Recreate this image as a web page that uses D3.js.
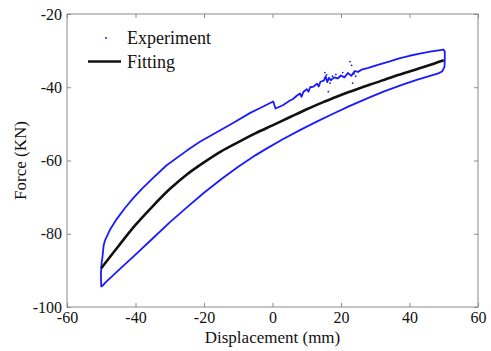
<!DOCTYPE html>
<html>
<head>
<meta charset="utf-8">
<script src="https://cdn.jsdelivr.net/npm/d3@7"></script>
<style>
  html, body { margin: 0; padding: 0; background: #fff; }
  svg { display: block; }
  text { font-family: "Liberation Serif", "Times New Roman", serif; fill: #111; }
</style>
</head>
<body>
<svg id="chart" width="491" height="351"></svg>
<script>
// ---------------- data ----------------
const xTicks = [-60, -40, -20, 0, 20, 40, 60];
const yTicks = [-100, -80, -60, -40, -20];
const xLabel = "Displacement (mm)";
const yLabel = "Force (KN)";
const legendLabels = ["Experiment", "Fitting"];

// Experiment loop: loading (upper) branch, right turn, unloading (lower) branch
const expX = [-50, -50.1, -49.9, -49.7, -49.3, -48.9, -47.5, -45.5, -43, -40.6, -38, -35, -30.9, -25, -21.2, -15, -11.4, -6.5, -3, 0.2,
  0.9, 3, 5, 6, 7, 8, 8.5, 9, 10, 10.5, 11, 12, 13, 13.5, 14, 15, 15.5, 16, 16.5, 17, 18, 19, 20, 21, 22, 23, 24, 25, 26, 28, 31, 34, 37, 40, 43, 46, 48, 49.9,
  50.3, 50.3, 50.2, 49.5,
  48.4, 46, 42.1, 38, 32.4, 28, 22.6, 18, 12.9, 8, 3, -2, -5, -10, -15, -20, -25, -30, -35, -40, -45, -48.9, -49.5, -50];
const expY = [-94.5, -91, -88, -86.8, -83.2, -81.8, -79.0, -76.0, -72.9, -70.2, -67.6, -64.9, -61.3, -57.3, -54.9, -51.6, -49.7, -47.0, -45.4, -43.9,
  -45.8, -44.9, -43.7, -43.2, -42.4, -41.7, -42.6, -41.3, -40.5, -41.2, -40.0, -39.8, -39.0, -39.8, -38.5, -38.2, -37.0, -38.6, -37.4, -38.1, -37.3, -37.6, -36.8, -37.3, -36.1, -36.9, -35.6, -35.8, -35.2, -34.7, -33.8, -33.0, -32.1, -31.4, -30.8, -30.3, -30.0, -29.7,
  -30.2, -32.5, -34.5, -35.7,
  -36.2, -36.9, -38.0, -39.3, -41.2, -42.9, -45.1, -47.1, -49.4, -51.7, -54.2, -56.9, -58.6, -61.7, -65.1, -68.8, -72.8, -76.9, -81.3, -85.7, -90.0, -93.4, -94.1, -94.5];

// scattered outlier samples of the experiment
const dotX = [15.3, 15.8, 16.3, 16.8, 17.5, 18.5, 20.5, 22.6, 23.1, 23.4, 23.8, 24.3];
const dotY = [-36.0, -36.6, -41.2, -38.9, -37.0, -36.5, -36.0, -33.0, -34.0, -38.9, -36.3, -37.0];

// Fitting curve
const fitX = [-50, -45, -40, -35, -30, -25, -20, -15, -10, -5, 0, 5, 10, 15, 20, 25, 30, 35, 40, 45, 50];
const fitY = [-89.4, -83.4, -77.6, -72.5, -67.8, -63.8, -60.5, -57.5, -55.0, -52.6, -50.4, -48.2, -46.0, -44.0, -42.1, -40.4, -38.8, -37.2, -35.7, -34.2, -32.6];

// ---------------- drawing ----------------
const svg = d3.select("#chart");
const m = { left: 67, right: 478, top: 14, bottom: 307 };
const x = d3.scaleLinear().domain([-60, 60]).range([m.left, m.right]);
const y = d3.scaleLinear().domain([-100, -20]).range([m.bottom, m.top]);

const axisColor = "#8a8a8a";
const blue = "#1a1aff";
const fmt = d => String(d);

// frame
svg.append("rect")
  .attr("x", m.left).attr("y", m.top)
  .attr("width", m.right - m.left).attr("height", m.bottom - m.top)
  .attr("fill", "none").attr("stroke", axisColor).attr("stroke-width", 1);

// axes with inward ticks
function styleAxis(g) {
  g.select(".domain").remove();
  g.selectAll(".tick line").attr("stroke", axisColor);
  g.selectAll(".tick text").style("font-family", '"Liberation Serif", serif').style("font-size", "16px").attr("fill", "#111");
}
svg.append("g").attr("transform", `translate(0,${m.bottom})`)
  .call(d3.axisBottom(x).tickValues(xTicks).tickSizeInner(-4).tickSizeOuter(0).tickPadding(5).tickFormat(fmt))
  .call(styleAxis);
svg.append("g").attr("transform", `translate(0,${m.top})`)
  .call(d3.axisTop(x).tickValues(xTicks).tickSizeInner(-4).tickSizeOuter(0).tickFormat(""))
  .call(styleAxis);
svg.append("g").attr("transform", `translate(${m.left},0)`)
  .call(d3.axisLeft(y).tickValues(yTicks).tickSizeInner(-4).tickSizeOuter(0).tickPadding(5).tickFormat(fmt))
  .call(styleAxis);
svg.append("g").attr("transform", `translate(${m.right},0)`)
  .call(d3.axisRight(y).tickValues(yTicks).tickSizeInner(-4).tickSizeOuter(0).tickFormat(""))
  .call(styleAxis);

// axis titles
svg.append("text").attr("x", (m.left + m.right) / 2).attr("y", 343)
  .attr("text-anchor", "middle").style("font-size", "17px").text(xLabel);
svg.append("text").attr("transform", `translate(26,${(m.top + m.bottom) / 2}) rotate(-90)`)
  .attr("text-anchor", "middle").style("font-size", "17px").text(yLabel);

// experiment loop
const expData = expX.map((v, i) => [v, expY[i]]);
svg.append("path").datum(expData)
  .attr("d", d3.line().x(d => x(d[0])).y(d => y(d[1])))
  .attr("fill", "none").attr("stroke", blue).attr("stroke-width", 1.8)
  .attr("stroke-linejoin", "round");

svg.append("g").selectAll("circle").data(dotX.map((v, i) => [v, dotY[i]])).join("circle")
  .attr("cx", d => x(d[0])).attr("cy", d => y(d[1])).attr("r", 0.9).attr("fill", blue);

// fitting curve
const fitData = fitX.map((v, i) => [v, fitY[i]]);
svg.append("path").datum(fitData)
  .attr("d", d3.line().x(d => x(d[0])).y(d => y(d[1])).curve(d3.curveCatmullRom))
  .attr("fill", "none").attr("stroke", "#111").attr("stroke-width", 2.6);

// legend
const lg = svg.append("g");
lg.append("circle").attr("cx", 106).attr("cy", 38).attr("r", 1).attr("fill", blue);
lg.append("text").attr("x", 127).attr("y", 44).style("font-size", "18px").text(legendLabels[0]);
lg.append("line").attr("x1", 88).attr("x2", 121).attr("y1", 61.5).attr("y2", 61.5)
  .attr("stroke", "#111").attr("stroke-width", 2.6);
lg.append("text").attr("x", 127).attr("y", 68).style("font-size", "18px").text(legendLabels[1]);
</script>
</body>
</html>
